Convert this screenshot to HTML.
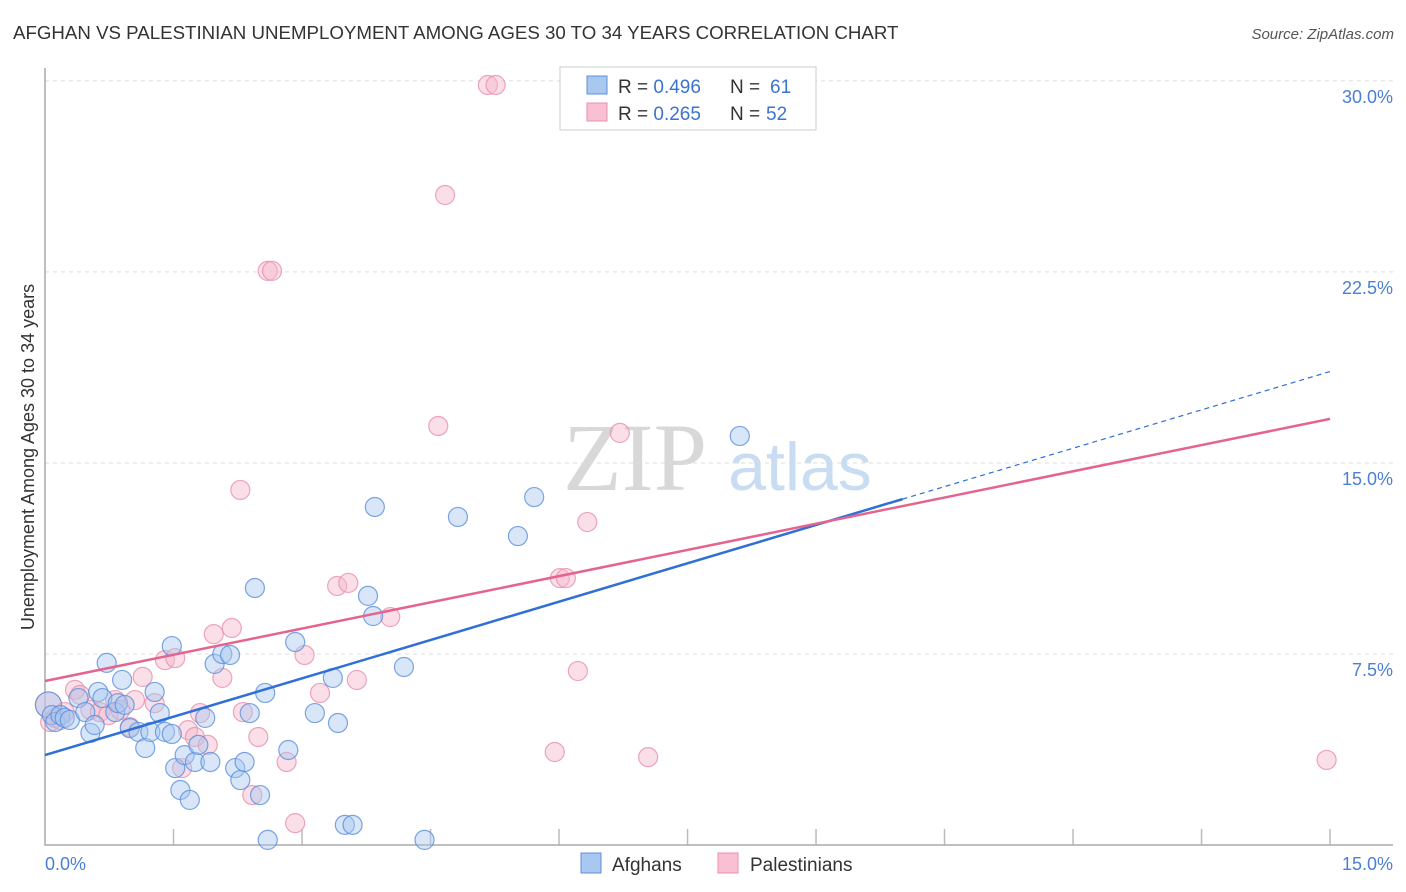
<!DOCTYPE html>
<html><head><meta charset="utf-8"><style>
body{margin:0;background:#fff;font-family:"Liberation Sans",sans-serif;}
svg{display:block}
</style></head><body>
<svg id="chart" width="1406" height="892">
<text x="13" y="39" font-size="18.7" fill="#333">AFGHAN VS PALESTINIAN UNEMPLOYMENT AMONG AGES 30 TO 34 YEARS CORRELATION CHART</text>
<text x="1394" y="39" font-size="15" fill="#555" font-style="italic" text-anchor="end">Source: ZipAtlas.com</text>
<text x="635" y="490" font-size="96" fill="#d8d8d8" font-family="Liberation Serif,serif" text-anchor="middle">ZIP</text>
<text x="800" y="490" font-size="68" fill="#c8dcf2" text-anchor="middle">atlas</text>
<g id="grid"></g><g id="marks"></g>
<text transform="translate(34,457) rotate(-90)" font-size="18" fill="#333" text-anchor="middle">Unemployment Among Ages 30 to 34 years</text>
<g>
<rect x="560" y="67" width="256" height="63" fill="#fff" stroke="#ccc"/>
<rect x="587" y="76" width="20" height="18" fill="#a8c8f0" stroke="#5b8fdc"/>
<rect x="587" y="103" width="20" height="18" fill="#f8c0d2" stroke="#e890aa"/>
<text x="618" y="93" font-size="19" fill="#333">R = <tspan fill="#3b73d0">0.496</tspan></text>
<text x="730" y="93" font-size="19" fill="#333">N =</text>
<text x="770" y="93" font-size="19" fill="#3b73d0">61</text>
<text x="618" y="120" font-size="19" fill="#333">R = <tspan fill="#3b73d0">0.265</tspan></text>
<text x="730" y="120" font-size="19" fill="#333">N =</text>
<text x="766" y="120" font-size="19" fill="#3b73d0">52</text>
</g>
<g>
<rect x="581" y="853" width="20" height="20" fill="#a8c8f0" stroke="#5b8fdc"/>
<text x="612" y="871" font-size="19" fill="#333">Afghans</text>
<rect x="718" y="853" width="20" height="20" fill="#f8c0d2" stroke="#e890aa"/>
<text x="750" y="871" font-size="19" fill="#333">Palestinians</text>
</g>
</svg>
<script>
const blueX=[0.04,0.08,0.12,0.18,0.23,0.29,0.39,0.47,0.53,0.58,0.62,0.67,0.72,0.82,0.85,0.90,0.93,0.99,1.09,1.17,1.23,1.28,1.34,1.40,1.48,1.52,1.58,1.63,1.69,1.75,1.79,1.87,1.93,1.98,2.07,2.16,2.22,2.28,2.33,2.39,2.45,2.51,2.57,2.60,2.84,2.92,3.15,3.36,3.42,3.50,3.59,3.77,3.83,3.85,4.19,4.43,4.82,5.52,5.71,8.11,1.48];
const blueY=[5.50,5.10,4.83,5.10,4.99,4.91,5.77,5.22,4.40,4.71,6.01,5.77,7.15,5.22,5.57,6.48,5.50,4.59,4.44,3.81,4.44,6.01,5.18,4.44,7.81,3.02,2.16,3.53,1.77,3.26,3.93,4.99,3.26,7.11,7.50,7.46,3.02,2.55,3.26,5.18,10.09,1.96,5.97,0.20,3.73,7.97,5.18,6.56,4.79,0.79,0.79,9.78,8.99,13.27,6.99,0.20,12.88,12.13,13.66,16.06,4.36];
const pinkX=[0.04,0.06,0.12,0.23,0.35,0.41,0.53,0.64,0.74,0.82,0.88,0.99,1.05,1.14,1.28,1.40,1.52,1.60,1.67,1.75,1.81,1.90,1.97,2.07,2.18,2.28,2.31,2.42,2.49,2.60,2.65,2.82,2.92,3.03,3.21,3.41,3.54,3.64,4.03,4.59,4.67,5.17,5.26,5.95,6.01,6.08,6.22,6.33,6.71,7.04,14.96,0.18];
const pinkY=[5.50,4.83,4.99,5.22,6.09,5.89,5.30,5.22,5.10,5.69,5.30,4.63,5.69,6.60,5.57,7.26,7.34,3.02,4.51,4.24,5.18,3.93,8.28,6.56,8.52,13.94,5.22,1.96,4.24,22.54,22.54,3.26,0.86,7.46,5.97,10.17,10.29,6.48,8.95,16.45,25.52,29.84,29.84,3.65,10.48,10.48,6.83,12.68,16.18,3.45,3.34,4.91];
const blueTrend=[3.53,1.004];
const pinkTrend=[6.44,0.686];
const yTicks=[7.5,15,22.5,30];
const yTickLabels=["7.5%","15.0%","22.5%","30.0%"];
const xTicks=[1.5,3,4.5,6,7.5,9,10.5,12,13.5,15];
const NS="http://www.w3.org/2000/svg";
const X=v=>45+v*85.67, Y=v=>845-v*25.47;
function mk(parent,tag,attrs){const e=document.createElementNS(NS,tag);for(const k in attrs)e.setAttribute(k,attrs[k]);parent.appendChild(e);return e;}
const g=document.getElementById('grid'), m=document.getElementById('marks');
yTicks.forEach((t,i)=>{
 const l=mk(g,'line',{x1:45,x2:1393,y1:Y(t),y2:Y(t),stroke:'#ddd','stroke-dasharray':'4,4'});
 
 
 const tx=mk(g,'text',{x:1393,y:Y(t)+22,'font-size':18,fill:'#4a7fd4','text-anchor':'end'});tx.textContent=yTickLabels[i];
 
 
});
xTicks.forEach(t=>{const l=mk(g,'line',{x1:X(t),x2:X(t),y1:845,y2:829,stroke:'#bbb','stroke-width':1.5});
 
 });
const ax=mk(g,'path',{d:'M45,68 V845 H1393',fill:'none',stroke:'#aaa','stroke-width':1.5});


const xl0=mk(g,'text',{x:45,y:870,'font-size':18,fill:'#4a7fd4'});xl0.textContent='0.0%';


const xl1=mk(g,'text',{x:1393,y:870,'font-size':18,fill:'#4a7fd4','text-anchor':'end'});xl1.textContent='15.0%';


function pts(xs,ys,fill,stroke,name){xs.forEach((x,i)=>{const r=(x<0.05)?13:9.5;
 const c=mk(m,'circle',{cx:X(x),cy:Y(ys[i]),r:r,fill:fill,'fill-opacity':0.45,stroke:stroke,'stroke-opacity':0.8,'stroke-width':1.2});
 
 });}
pts(pinkX,pinkY,'#f5b8cc','#e890aa','palestinian-point');
pts(blueX,blueY,'#a8c8f0','#5b8fdc','afghan-point');
const bEnd=Math.max(...blueX)+1.9;
const bl=mk(m,'line',{x1:X(0),y1:Y(blueTrend[0]),x2:X(bEnd),y2:Y(blueTrend[0]+blueTrend[1]*bEnd),stroke:'#2f6fd6','stroke-width':2.5});


const bd=mk(m,'line',{x1:X(bEnd),y1:Y(blueTrend[0]+blueTrend[1]*bEnd),x2:X(15),y2:Y(blueTrend[0]+blueTrend[1]*15),stroke:'#2f6fd6','stroke-width':1.2,'stroke-dasharray':'5,4'});


const pl=mk(m,'line',{x1:X(0),y1:Y(pinkTrend[0]),x2:X(15),y2:Y(pinkTrend[0]+pinkTrend[1]*15),stroke:'#e4648e','stroke-width':2.5});


</script>
</body></html>
